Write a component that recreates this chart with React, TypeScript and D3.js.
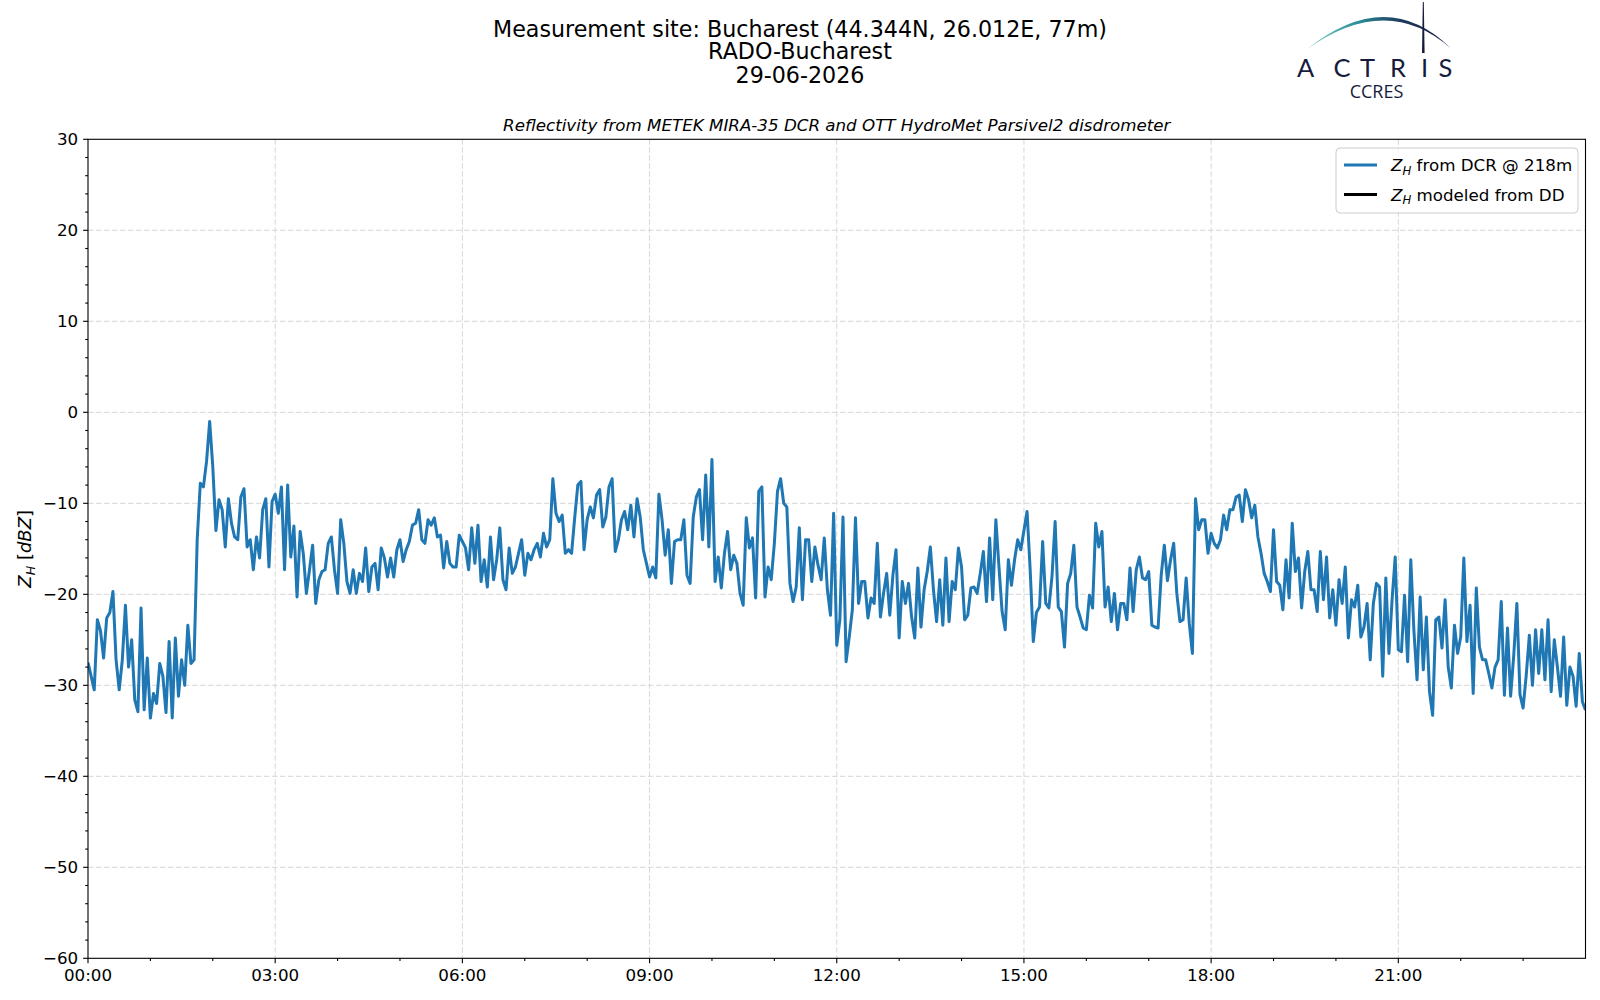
import React from 'react';
import * as d3 from 'd3';

const titleLines = [
  'Measurement site: Bucharest (44.344N, 26.012E, 77m)',
  'RADO-Bucharest',
  '29-06-2026',
];
const subtitle = 'Reflectivity from METEK MIRA-35 DCR and OTT HydroMet Parsivel2 disdrometer';
const legendLabels = ['from DCR @ 218m', 'modeled from DD'];

// Z_H from the DCR @ 218m, one value every 3 minutes, split in 3-hour blocks
const zh0003 = [
  -27.5, -29, -30.5, -22.8, -24, -27, -22.6, -22, -19.7, -27.2,
  -30.5, -27.2, -21.2, -28, -25, -31.6, -32.9, -21.5, -32.7, -27,
  -33.6, -30.9, -32, -27.6, -29, -33, -25.2, -33.6, -24.8, -31.2,
  -27.2, -30, -23.4, -27.6, -27.2, -14, -7.8, -8.2, -5.4, -1,
  -6, -13, -9.6, -10.7, -14.8, -9.5, -12.2, -13.7, -14, -9.3,
  -8.4, -14.8, -14, -17.3, -13.7, -16, -10.7, -9.5, -17, -9.8,
];
const zh0306 = [
  -9, -11.1, -8.2, -17.3, -8, -15.9, -12.5, -20.3, -13.1, -15.5,
  -19.9, -17.3, -14.6, -21, -18.4, -17.5, -17.3, -14.4, -13.7, -17.3,
  -19.9, -11.8, -14.4, -18.6, -19.9, -17.3, -19.9, -17.7, -18.6, -14.9,
  -19.7, -17, -16.6, -19.5, -14.9, -16, -18.1, -16, -18.1, -15.1,
  -14, -16.4, -15.1, -14.2, -12.4, -12.2, -10.7, -14, -14.4, -11.8,
  -12.4, -11.6, -13.7, -13.5, -17.1, -14.2, -16.6, -17, -17, -13.5,
];
const zh0609 = [
  -14.2, -14.9, -17.3, -12.7, -16.6, -12.4, -18.6, -16.2, -19.2, -13.7,
  -18.4, -16.2, -12.7, -18.4, -19.5, -14.9, -17.7, -17, -15.5, -14,
  -17.9, -15.5, -16.2, -15.1, -14.4, -15.9, -13.3, -14.8, -14, -7.3,
  -11.1, -12, -11.3, -15.5, -15.1, -15.5, -11.6, -8, -7.6, -15.1,
  -11.8, -10.4, -11.6, -9.1, -8.5, -12.6, -11.5, -8.2, -7.3, -15.3,
  -14, -11.8, -10.9, -12.9, -10.2, -13.7, -9.5, -11.5, -15.1, -16.6,
];
const zh0912 = [
  -18.1, -17, -18.2, -9, -11.8, -15.7, -12.9, -18.8, -14.2, -14,
  -14, -11.8, -17.9, -18.8, -11.5, -9.3, -8.5, -14, -6.9, -14.8,
  -5.2, -18.6, -15.9, -19.3, -15.5, -13.1, -17.3, -15.7, -16.6, -19.9,
  -21.2, -11.6, -14.9, -13.8, -20.4, -8.7, -8.2, -20.3, -17, -18.4,
  -14.4, -8.7, -7.3, -10, -10.4, -18.8, -20.8, -19.2, -12.7, -20.6,
  -14, -14, -18.6, -14.8, -16.8, -18.4, -13.8, -19.5, -22.3, -11.1,
];
const zh1215 = [
  -25.6, -22.8, -11.5, -27.4, -24.7, -21.7, -11.6, -21, -18.6, -18.6,
  -22.6, -20.4, -21, -14.4, -22.5, -19.9, -17.7, -22.3, -17.9, -15.1,
  -24.8, -18.6, -21, -18.8, -22.5, -24.8, -17.1, -23.6, -19.5, -17.5,
  -14.8, -19.5, -23, -18.4, -23.4, -16, -23, -18.6, -19.5, -14.9,
  -17, -22.8, -22.3, -19.3, -19.2, -19.9, -17.7, -15.3, -20.8, -13.8,
  -20.6, -11.8, -17, -21.9, -23.9, -16.2, -19, -16.2, -14, -15.1,
];
const zh1518 = [
  -13, -10.9, -17.3, -25.2, -22, -21.4, -14.2, -21, -21.5, -18,
  -12, -21.4, -21.9, -25.8, -18.8, -17.7, -14.6, -21.4, -22.5, -23.7,
  -23.9, -20.1, -21.5, -12.2, -14.8, -13.1, -21.4, -19.2, -23, -19.9,
  -23.9, -21, -21, -22.8, -17.1, -21.9, -17.3, -15.9, -18.2, -18.4,
  -17.5, -23.4, -23.6, -23.7, -17.9, -14.6, -18.5, -16.2, -14.4, -19.9,
  -23, -22.8, -18.2, -23.2, -26.5, -9.5, -12.9, -11.8, -11.8, -15.5,
];
const zh1821 = [
  -13.3, -14.4, -14.9, -14, -11.3, -12.9, -10.7, -10.7, -9.3, -9.1,
  -12, -8.5, -9.6, -11.6, -10.2, -13.7, -15.5, -17.7, -18.6, -19.7,
  -12.9, -18.6, -19, -21.7, -16.2, -20.4, -12.2, -17.5, -16, -21.5,
  -17.5, -15.3, -19.5, -19.5, -21.9, -15.3, -20.6, -15.9, -22.6, -19.5,
  -23.4, -18.4, -21, -17, -24.8, -20.6, -21.4, -19, -24.7, -23.6,
  -21, -27.2, -21, -18.8, -19.2, -29, -18.2, -26.5, -20.6, -15.9,
];
const zh2124 = [
  -26.1, -26.3, -20.1, -27.4, -16.2, -24, -29.4, -20.3, -28.3, -22.5,
  -30.7, -33.3, -22.8, -22.5, -25.9, -20.6, -28, -30.3, -23.4, -26.5,
  -24.7, -16, -25.2, -21.2, -30.9, -19.3, -25.8, -27.2, -27.2, -28.7,
  -30.3, -28, -27.2, -20.8, -31.1, -23.7, -31.2, -26.7, -21, -31,
  -32.5, -28.9, -24.5, -30, -23.9, -28.7, -23.9, -29.4, -22.8, -30.7,
  -25, -28, -31.2, -24.7, -32.2, -28, -29, -32.3, -26.5, -31.8,
  -32.7,
];
const zhDcr = [...zh0003, ...zh0306, ...zh0609, ...zh0912, ...zh1215, ...zh1518, ...zh1821, ...zh2124];
// the disdrometer series is empty for this day, only its legend entry is drawn
const zhDd: number[] = [];

const yMajor = [-60, -50, -40, -30, -20, -10, 0, 10, 20, 30];
const stepMinutes = 3;
const day0 = Date.UTC(2026, 5, 29);
const day1 = Date.UTC(2026, 5, 30);

const W = 1600;
const H = 1000;
const plot = { left: 88, right: 1585.5, top: 139.3, bottom: 958.3 };
const blue = '#1f77b4';
const navy = '#161b3d';
const font = 'DejaVu Sans, sans-serif';

const SubH = ({ size }: { size: number }) => (
  <>
    <tspan fontStyle="italic">Z</tspan>
    <tspan fontStyle="italic" fontSize={size * 0.7} dy={size * 0.22}>H</tspan>
    <tspan dy={-size * 0.22}> </tspan>
  </>
);

const App: React.FC = () => {
  const x = d3.scaleUtc().domain([new Date(day0), new Date(day1)]).range([plot.left, plot.right]);
  const y = d3.scaleLinear().domain([-60, 30]).range([plot.bottom, plot.top]);

  const xMajor = d3.utcHour.every(3)!.range(new Date(day0), new Date(day1));
  const xMinor = d3.utcHour.range(new Date(day0), new Date(day1)).filter(d => d.getUTCHours() % 3 !== 0);
  const yMinor = d3.range(-60, 31, 2).filter(v => v % 10 !== 0);
  const fmtTime = d3.utcFormat('%H:%M');
  const fmtY = d3.format('d');

  const line = d3.line<number>()
    .x((_, i) => x(new Date(day0 + i * stepMinutes * 60000)))
    .y(d => y(d));

  const legendX = 1336;
  const legendY = 148;
  const rowY = [165, 194.5];

  return (
    <svg width={W} height={H} style={{ position: 'absolute', left: 0, top: 0, display: 'block', background: '#fff' }}
      fontFamily={font}>
      <defs>
        <clipPath id="plotClip">
          <rect x={plot.left} y={plot.top} width={plot.right - plot.left} height={plot.bottom - plot.top} />
        </clipPath>
        <linearGradient id="arcGrad" gradientUnits="userSpaceOnUse" x1={1306} y1={0} x2={1452} y2={0}>
          <stop offset="0" stopColor="#7fd0c8" />
          <stop offset="0.35" stopColor="#2c8f98" />
          <stop offset="0.65" stopColor="#1d3a5e" />
          <stop offset="1" stopColor={navy} />
        </linearGradient>
      </defs>
      <rect width={W} height={H} fill="#fff" />

      {/* titles */}
      {titleLines.map((t, i) => (
        <text key={t} x={800} y={[36.8, 59.4, 82.9][i]} textAnchor="middle" fontSize={22.2} fill="#000">{t}</text>
      ))}
      <text x={(plot.left + plot.right) / 2} y={131} textAnchor="middle" fontSize={16.7} fontStyle="italic">{subtitle}</text>

      {/* logo */}
      <g>
        <path d="M1306.5,49.5 Q1387,-15 1451,48.5 Q1387,-8 1306.5,49.5 Z" fill="url(#arcGrad)" />
        <path d="M1422.8,2 L1423.8,2 L1424.6,53 L1422,53 Z" fill={navy} />
        <text x={[1297, 1333.5, 1360, 1390, 1421, 1438.5].join(' ')} y={76.7} fontFamily="Lato, sans-serif"
          fontSize={25.5} fill={navy}>ACTRIS</text>
        <text x={1376.5} y={98.3} textAnchor="middle" fontFamily="Open Sans, sans-serif" fontSize={18} fill={navy}>CCRES</text>
      </g>

      {/* grid */}
      <g stroke="#d6d6d6" strokeWidth={1} strokeDasharray="5.5,2.5">
        {xMajor.filter(d => +d !== day0).map(d => (
          <line key={+d} x1={x(d)} x2={x(d)} y1={plot.top} y2={plot.bottom} />
        ))}
        {yMajor.filter(v => v !== -60 && v !== 30).map(v => (
          <line key={v} x1={plot.left} x2={plot.right} y1={y(v)} y2={y(v)} />
        ))}
      </g>

      {/* data */}
      <g clipPath="url(#plotClip)">
        <path d={line(zhDcr) ?? ''} fill="none" stroke={blue} strokeWidth={3} strokeLinejoin="round" />
        {zhDd.length > 0 && <path d={line(zhDd) ?? ''} fill="none" stroke="#000" strokeWidth={3} />}
      </g>

      {/* frame */}
      <rect x={plot.left} y={plot.top} width={plot.right - plot.left} height={plot.bottom - plot.top}
        fill="none" stroke="#000" strokeWidth={1.1} />

      {/* x axis */}
      <g stroke="#000" strokeWidth={1.1}>
        {xMajor.map(d => <line key={+d} x1={x(d)} x2={x(d)} y1={plot.bottom} y2={plot.bottom + 4.9} />)}
        {xMinor.map(d => <line key={+d} x1={x(d)} x2={x(d)} y1={plot.bottom} y2={plot.bottom + 2.8} />)}
      </g>
      {xMajor.map(d => (
        <text key={+d} x={x(d)} y={plot.bottom + 22.5} textAnchor="middle" fontSize={16.7}>{fmtTime(d)}</text>
      ))}

      {/* y axis */}
      <g stroke="#000" strokeWidth={1.1}>
        {yMajor.map(v => <line key={v} x1={plot.left - 4.9} x2={plot.left} y1={y(v)} y2={y(v)} />)}
        {yMinor.map(v => <line key={v} x1={plot.left - 2.8} x2={plot.left} y1={y(v)} y2={y(v)} />)}
      </g>
      {yMajor.map(v => (
        <text key={v} x={plot.left - 9.8} y={y(v) + 6} textAnchor="end" fontSize={16.7}>{fmtY(v)}</text>
      ))}
      <text transform={`translate(31,${(plot.top + plot.bottom) / 2}) rotate(-90)`} textAnchor="middle"
        fontSize={18} style={{ whiteSpace: 'pre' }}>
        <SubH size={18} />
        <tspan>[</tspan><tspan fontStyle="italic">dBZ</tspan><tspan>]</tspan>
      </text>

      {/* legend */}
      <rect x={legendX} y={legendY} width={242} height={65} rx={4} fill="#fff" fillOpacity={0.8}
        stroke="#cccccc" strokeWidth={1} />
      {legendLabels.map((lab, i) => (
        <g key={lab}>
          <line x1={legendX + 8} x2={legendX + 41} y1={rowY[i]} y2={rowY[i]} stroke={i === 0 ? blue : '#000'}
            strokeWidth={3} />
          <text x={legendX + 55} y={rowY[i] + 6} fontSize={16.7} style={{ whiteSpace: 'pre' }}>
            <SubH size={16.7} />
            <tspan>{lab}</tspan>
          </text>
        </g>
      ))}
    </svg>
  );
};

export default App;
